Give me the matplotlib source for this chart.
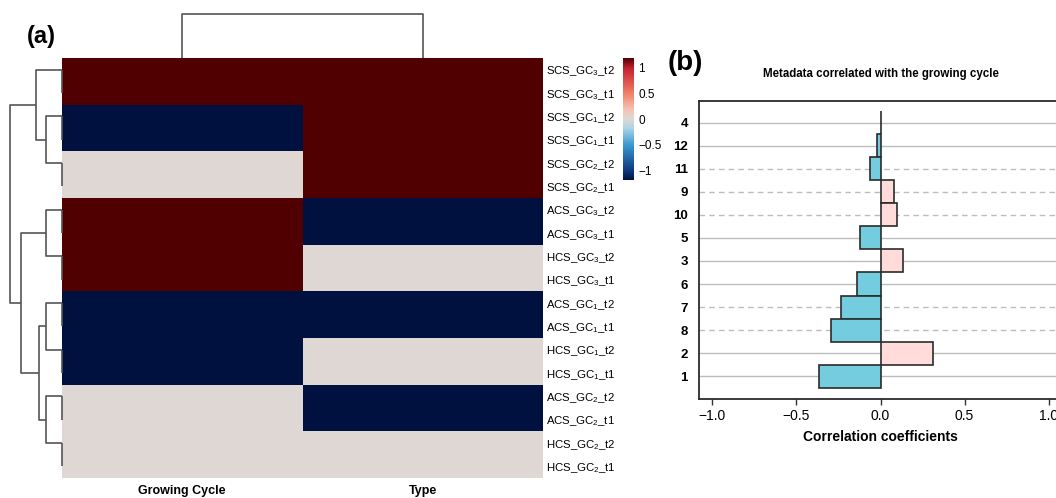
import numpy as np
import matplotlib
matplotlib.use('Agg')
import matplotlib.pyplot as plt
from matplotlib.colors import LinearSegmentedColormap, Normalize
from matplotlib.cm import ScalarMappable

plt.rcParams['font.family'] = ['Liberation Sans', 'DejaVu Sans']
plt.rcParams['mathtext.fontset'] = 'custom'
plt.rcParams['mathtext.rm'] = 'Liberation Sans'
plt.rcParams['mathtext.it'] = 'Liberation Sans'

W, H = 1056, 498

# ---- (a) heatmap data ----
samples = ['SCS_GC3_t2', 'SCS_GC3_t1', 'SCS_GC1_t2', 'SCS_GC1_t1', 'SCS_GC2_t2', 'SCS_GC2_t1',
           'ACS_GC3_t2', 'ACS_GC3_t1', 'HCS_GC3_t2', 'HCS_GC3_t1', 'ACS_GC1_t2', 'ACS_GC1_t1',
           'HCS_GC1_t2', 'HCS_GC1_t1', 'ACS_GC2_t2', 'ACS_GC2_t1', 'HCS_GC2_t2', 'HCS_GC2_t1']
columns = ['Growing Cycle', 'Type']
gc_level = [3, 3, 1, 1, 2, 2, 3, 3, 3, 3, 1, 1, 1, 1, 2, 2, 2, 2]
type_level = [3, 3, 3, 3, 3, 3, 1, 1, 2, 2, 1, 1, 2, 2, 1, 1, 2, 2]  # 1 ACS, 2 HCS, 3 SCS

# row tree: (child a, child b, height), scipy-style node numbering
row_merges = [(0, 1, 0), (2, 3, 0), (4, 5, 0), (6, 7, 0), (8, 9, 0), (10, 11, 0),
              (12, 13, 0), (14, 15, 0), (16, 17, 0),
              (19, 20, 1.19), (21, 22, 1.19), (23, 24, 1.19), (25, 26, 1.19),
              (29, 30, 1.69), (18, 27, 1.96), (28, 31, 3.03), (32, 33, 3.87)]
col_merges = [(0, 1, 3.27)]

# ---- (b) correlation data (top to bottom) ----
meta_vars = ['4', '12', '11', '9', '10', '5', '3', '6', '7', '8', '2', '1']
corr_vals = [0.004, -0.02, -0.06, 0.083, 0.10, -0.12, 0.135, -0.141, -0.237, -0.297, 0.313, -0.365]
dashed_vars = ['11', '9', '10', '7', '8']


def rect(l, t, r, b):
    return [l / W, 1 - b / H, (r - l) / W, (b - t) / H]


def draw_tree(ax, merges, n, side):
    pos = {i: i + 0.5 for i in range(n)}
    hts = {i: 0.0 for i in range(n)}
    for k, (a, b, h) in enumerate(merges):
        xs = [hts[a], h, h, hts[b]]
        ys = [pos[a], pos[a], pos[b], pos[b]]
        if side == 'left':
            ax.plot(xs, ys, color='#555555', lw=1.2, clip_on=False, solid_capstyle='butt')
        else:
            ax.plot(ys, xs, color='#555555', lw=1.2, clip_on=False, solid_capstyle='butt')
        pos[n + k] = pos[a] if h == 0 else (pos[a] + pos[b]) / 2
        hts[n + k] = h


def sub_label(s):
    # 'SCS_GC3_t2' -> SCS_GC with subscript 3, then _t2
    return s[:4] + '$\\mathregular{GC_' + s[6] + '}$' + s[7:]


fig = plt.figure(figsize=(W / 100, H / 100), dpi=100)

mat = np.array([gc_level, type_level], dtype=float).T
mat = (mat - mat.mean(axis=0)) / mat.std(axis=0, ddof=1)
lim = np.abs(mat).max()

cmap = LinearSegmentedColormap.from_list('hm', [
    (0.0, '#00103F'), (0.08, '#0D3B80'), (0.29, '#3A9AD0'), (0.42, '#A8D4E8'),
    (0.5, '#DED8D4'), (0.58, '#F6C2B2'), (0.71, '#F0806A'), (0.92, '#C21F2E'),
    (1.0, '#500000')])
norm = Normalize(-lim, lim)

ax_hm = fig.add_axes(rect(62, 58, 543, 478))
ax_hm.pcolormesh(mat, cmap=cmap, norm=norm)
ax_hm.set_xlim(0, 2)
ax_hm.set_ylim(len(samples), 0)
for s in ax_hm.spines.values():
    s.set_visible(False)
ax_hm.yaxis.tick_right()
ax_hm.set_yticks(np.arange(len(samples)) + 0.5)
ax_hm.set_yticklabels([sub_label(s) for s in samples], fontsize=8.2)
ax_hm.set_xticks([0.5, 1.5])
ax_hm.set_xticklabels(columns, fontsize=9, fontweight='bold')
ax_hm.tick_params(length=0)
ax_hm.tick_params(axis='y', pad=2)
ax_hm.tick_params(axis='x', pad=5)

ax_rd = fig.add_axes(rect(8, 58, 62, 478))
draw_tree(ax_rd, row_merges, len(samples), 'left')
ax_rd.set_xlim(4.02, 0)
ax_rd.set_ylim(len(samples), 0)
ax_rd.axis('off')

ax_cd = fig.add_axes(rect(62, 10, 543, 58))
draw_tree(ax_cd, col_merges, len(columns), 'top')
ax_cd.set_xlim(0, 2)
ax_cd.set_ylim(0, 3.57)
ax_cd.axis('off')

cax = fig.add_axes(rect(623, 58, 634, 180))
cb = fig.colorbar(ScalarMappable(norm=norm, cmap=cmap), cax=cax)
cb.outline.set_visible(False)
cb.set_ticks([-1, -0.5, 0, 0.5, 1])
cb.set_ticklabels(['\u22121', '\u22120.5', '0', '0.5', '1'])
cax.tick_params(length=0, labelsize=8.5, pad=3)

fig.text(27 / W, 1 - 37 / H, '(a)', fontsize=17, fontweight='bold', va='center', ha='left')

# ---- (b) bar chart ----
ax_b = fig.add_axes(rect(699, 100.7, 1062, 399.3))
ypos = np.arange(len(meta_vars), 0, -1)
for v, y in zip(meta_vars, ypos):
    ax_b.axhline(y, color='#BDBDBD', lw=1.0, ls=(0, (4, 3)) if v in dashed_vars else '-', zorder=0)
colors = ['#74CCDF' if c < 0 else '#FFDCDA' for c in corr_vals]
ax_b.barh(ypos, corr_vals, height=1.0, color=colors, edgecolor='#2b2b2b', lw=1.2, zorder=2)
ax_b.set_xlim(-1.08, 1.08)
ax_b.set_ylim(0, 12.95)
ax_b.set_yticks(ypos)
ax_b.set_yticklabels(meta_vars, fontsize=9.5, fontweight='bold')
ax_b.tick_params(axis='y', length=0, pad=8)
ax_b.set_xticks([-1, -0.5, 0, 0.5, 1])
ax_b.set_xticklabels(['\u22121.0', '\u22120.5', '0.0', '0.5', '1.0'], fontsize=10)
ax_b.tick_params(axis='x', length=4, width=1, color='#333333', pad=3)
for s in ax_b.spines.values():
    s.set_linewidth(1.3)
    s.set_color('#2b2b2b')
ax_b.set_xlabel('Correlation coefficients', fontsize=10, fontweight='bold', labelpad=5)
ax_b.set_title('Metadata correlated with the growing cycle', fontsize=8.3, fontweight='bold', pad=17)

fig.text(668 / W, 1 - 63 / H, '(b)', fontsize=20, fontweight='bold', va='center', ha='left')

fig.savefig('out.png', dpi=100)
